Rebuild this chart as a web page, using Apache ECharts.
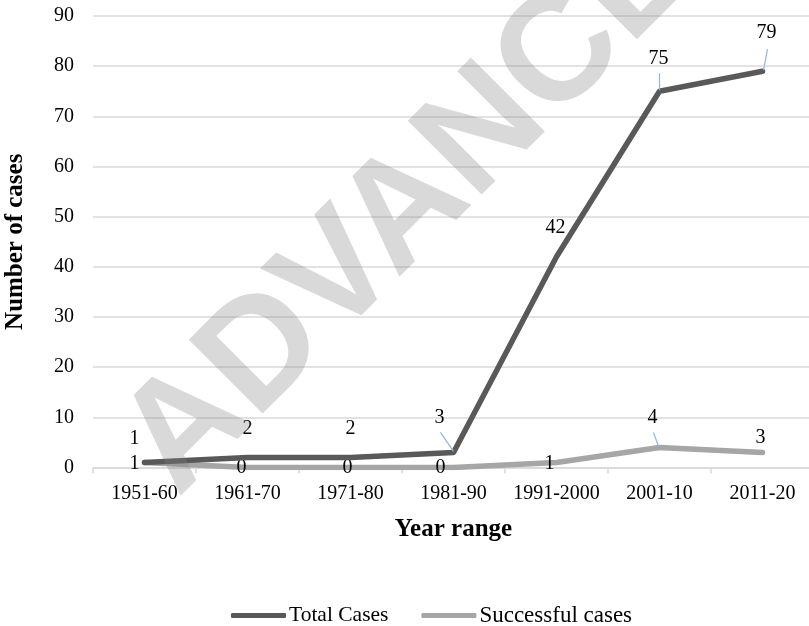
<!DOCTYPE html>
<html>
<head>
<meta charset="utf-8">
<script src="https://cdn.jsdelivr.net/npm/echarts@6/dist/echarts.min.js"></script>
<style>
  html, body { margin: 0; padding: 0; background: #fff; }
  #chart { width: 809px; height: 626px; }
</style>
</head>
<body>
<div id="chart"></div>
<script>
// Decades on the x axis
const yearRanges = ['1951-60', '1961-70', '1971-80', '1981-90', '1991-2000', '2001-10', '2011-20'];
// Number of cases per decade
const totalCases = [1, 2, 2, 3, 42, 75, 79];
const successfulCases = [1, 0, 0, 0, 1, 4, 3];
// Value axis range
const yMin = 0;
const yMax = 90;
const yStep = 10;

// Per-point label nudges (pixels) so the numbers sit clear of the lines
const totalLabelOffsets = [[-10, -24], [0, -29], [0, -29], [-14, -35], [-1, -29], [-1, -33], [4, -38]];
const successLabelOffsets = [[-10, 1], [-6, 0], [-3, 0], [-13, 0], [-7, 1], [-7, -30], [-2, -15]];

// Short guide lines joining a moved label to its point (pixel offsets from the point)
const totalLeaders = [
  { i: 3, from: [-13, -20], to: [0, -1] },
  { i: 5, from: [0, -18], to: [0, -1] },
  { i: 6, from: [5, -22], to: [1, -1] }
];
const successLeaders = [
  { i: 5, from: [-6, -15], to: [-1, -1] }
];

const SERIF = '"Liberation Serif", "Times New Roman", serif';

function labelled(values, offsets) {
  return values.map((v, i) => ({
    value: v,
    label: { offset: offsets[i] }
  }));
}

function leaderSeries(values, leaders) {
  return {
    type: 'custom',
    silent: true,
    z: 4,
    data: leaders.map(l => [l.i, values[l.i]]),
    renderItem: function (params, api) {
      const spec = leaders[params.dataIndex];
      const p = api.coord([api.value(0), api.value(1)]);
      return {
        type: 'line',
        shape: {
          x1: p[0] + spec.from[0], y1: p[1] + spec.from[1],
          x2: p[0] + spec.to[0], y2: p[1] + spec.to[1]
        },
        style: { stroke: '#8fb4e3', lineWidth: 1.2 }
      };
    }
  };
}

const chart = echarts.init(document.getElementById('chart'), null, { renderer: 'canvas' });

const lineLabel = {
  show: true,
  position: 'inside',
  fontFamily: SERIF,
  fontSize: 20,
  color: '#000'
};

chart.setOption({
  animation: false,
  backgroundColor: '#fff',
  grid: {
    left: 93, top: 16, width: 721, height: 451.5,
    containLabel: false,
    outerBoundsMode: 'none'
  },
  legend: {
    left: 226,
    top: 599,
    itemWidth: 55,
    itemHeight: 5,
    itemGap: 33,
    icon: 'roundRect',
    selectedMode: false,
    textStyle: { fontFamily: SERIF, color: '#000', padding: [0, 0, 0, -2] },
    data: [
      { name: 'Total Cases', textStyle: { fontSize: 21.5 } },
      { name: 'Successful cases', textStyle: { fontSize: 23 } }
    ]
  },
  xAxis: {
    type: 'category',
    data: yearRanges,
    boundaryGap: true,
    axisLine: { lineStyle: { color: '#d9d9d9', width: 1.5 } },
    axisTick: { show: true, length: 6, lineStyle: { color: '#d9d9d9', width: 1.5 } },
    axisLabel: { fontFamily: SERIF, fontSize: 20, color: '#000', margin: 16, interval: 0 },
    name: 'Year range',
    nameLocation: 'middle',
    nameGap: 50,
    nameTextStyle: { fontFamily: SERIF, fontSize: 25, fontWeight: 'bold', color: '#000' }
  },
  yAxis: {
    type: 'value',
    min: yMin,
    max: yMax,
    interval: yStep,
    axisLine: { show: false },
    axisTick: { show: false },
    splitLine: { lineStyle: { color: '#d9d9d9', width: 1.5 } },
    axisLabel: { fontFamily: SERIF, fontSize: 20, color: '#000', margin: 19 },
    name: 'Number of cases',
    nameLocation: 'middle',
    nameRotate: 90,
    nameGap: 65,
    nameTextStyle: { fontFamily: SERIF, fontSize: 25, fontWeight: 'bold', color: '#000' }
  },
  series: [
    {
      name: 'Total Cases',
      type: 'line',
      data: labelled(totalCases, totalLabelOffsets),
      symbol: 'circle',
      symbolSize: 1,
      color: '#595959',
      lineStyle: { width: 5.5, color: '#595959', cap: 'round', join: 'round' },
      itemStyle: { color: '#595959' },
      label: lineLabel,
      z: 3
    },
    {
      name: 'Successful cases',
      type: 'line',
      data: labelled(successfulCases, successLabelOffsets),
      symbol: 'circle',
      symbolSize: 1,
      color: '#a6a6a6',
      lineStyle: { width: 5.5, color: '#a6a6a6', cap: 'round', join: 'round' },
      itemStyle: { color: '#a6a6a6' },
      label: lineLabel,
      z: 2
    },
    leaderSeries(totalCases, totalLeaders),
    leaderSeries(successfulCases, successLeaders)
  ],
  graphic: [
    {
      type: 'text',
      silent: true,
      z: 100,
      x: 410,
      y: 207,
      rotation: Math.PI / 4,
      style: {
        text: 'ADVANCE',
        font: 'bold 152px "Liberation Sans", Arial, sans-serif',
        fill: 'rgba(128,128,128,0.3)',
        align: 'center',
        verticalAlign: 'middle'
      }
    }
  ]
});
</script>
</body>
</html>
